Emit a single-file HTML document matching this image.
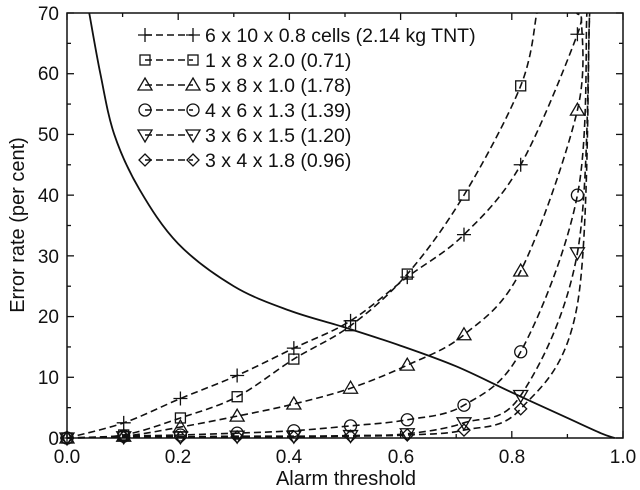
<!DOCTYPE html>
<html><head><meta charset="utf-8"><style>
html,body{margin:0;padding:0;background:#fff}
svg{display:block;font-family:"Liberation Sans",sans-serif}
</style></head><body>
<svg id="s" width="640" height="490" viewBox="0 0 640 490" xmlns="http://www.w3.org/2000/svg">
<rect x="0" y="0" width="640" height="490" fill="#fff"/>
<g id="plot"></g>
<rect x="67" y="13" width="556" height="425" fill="none" stroke="#111" stroke-width="1.5"/>
<g id="ticks" stroke="#111" stroke-width="1.3"></g>
<g font-size="19" fill="#111" text-anchor="end">
<text x="59" y="445">0</text><text x="59" y="384">10</text><text x="59" y="323">20</text><text x="59" y="263">30</text><text x="59" y="202">40</text><text x="59" y="141">50</text><text x="59" y="80">60</text><text x="59" y="20">70</text>
</g>
<g font-size="19" fill="#111" text-anchor="middle">
<text x="67" y="463">0.0</text><text x="178" y="463">0.2</text><text x="289" y="463">0.4</text><text x="401" y="463">0.6</text><text x="512" y="463">0.8</text><text x="623" y="463">1.0</text>
<text x="346" y="485" font-size="20">Alarm threshold</text>
<text transform="translate(24,225) rotate(-90)" font-size="20">Error rate (per cent)</text>
</g>
<g font-size="19.5" fill="#111">
<text x="205" y="42">6 x 10 x 0.8 cells (2.14 kg TNT)</text>
<text x="205" y="67">1 x 8 x 2.0 (0.71)</text>
<text x="205" y="92">5 x 8 x 1.0 (1.78)</text>
<text x="205" y="117">4 x 6 x 1.3 (1.39)</text>
<text x="205" y="142">3 x 6 x 1.5 (1.20)</text>
<text x="205" y="167">3 x 4 x 1.8 (0.96)</text>
</g>
<g id="leg"></g>
</svg>
<script>
var X=function(v){return 67+556*v},Y=function(v){return 438-425*v/70};
var ns="http://www.w3.org/2000/svg",P=document.getElementById('plot'),T=document.getElementById('ticks'),L=document.getElementById('leg');
function el(p,t,a){var e=document.createElementNS(ns,t);for(var k in a)e.setAttribute(k,a[k]);p.appendChild(e);return e}
for(var i=0;i<=10;i++){var x=X(i/10),l=i%2?4:7;el(T,'line',{x1:x,y1:438,x2:x,y2:438-l});el(T,'line',{x1:x,y1:13,x2:x,y2:13+l});}
for(var i=0;i<=14;i++){var y=Y(i*5),l=i%2?4:7;el(T,'line',{x1:67,y1:y,x2:67+l,y2:y});el(T,'line',{x1:623,y1:y,x2:623-l,y2:y});}
function smooth(pts){var d='M'+pts[0][0]+','+pts[0][1];for(var i=0;i<pts.length-1;i++){var p0=pts[i-1]||pts[i],p1=pts[i],p2=pts[i+1],p3=pts[i+2]||p2;
d+=' C'+(p1[0]+(p2[0]-p0[0])/6)+','+(p1[1]+(p2[1]-p0[1])/6)+' '+(p2[0]-(p3[0]-p1[0])/6)+','+(p2[1]-(p3[1]-p1[1])/6)+' '+p2[0]+','+p2[1];}return d}
var cl=[[0.04,70],[0.06,60],[0.085,50],[0.13,41],[0.2,32],[0.3,25],[0.4,21],[0.5,18.2],[0.6,15.2],[0.7,11.8],[0.8,7.5],[0.9,3.3],[0.96,0.8],[0.985,0]];
el(P,'path',{d:smooth(cl.map(function(p){return[X(p[0]),Y(p[1])]})),fill:'none',stroke:'#111','stroke-width':1.8});
var S=[
['plus',[0,2.5,6.5,10.3,14.8,19.3,26.5,33.5,45,66.5],[0.917,70],10],
['sq',[0,0.5,3.3,6.8,13,18.5,27,40,58],[0.845,70],9],
['tri',[0,0.3,1.8,3.6,5.6,8.2,12,17,27.5,54],[0.925,70],10],
['circ',[0,0.3,0.5,0.8,1.2,2,3,5.4,14.2,40],[0.935,70],10],
['dtri',[0,0.2,0.2,0.3,0.3,0.4,0.7,2.5,7,30.5],[0.94,70],10],
['dia',[0,0.1,0.1,0.2,0.2,0.3,0.5,1.3,4.8,22],[0.94,70],9]];
function mk(g,t,x,y){var a={fill:'none',stroke:'#111','stroke-width':1.3},r=5;
if(t=='plus'){el(g,'path',Object.assign({d:'M'+(x-7)+','+y+'h14M'+x+','+(y-7)+'v14'},a));}
else if(t=='sq')el(g,'rect',Object.assign({x:x-r,y:y-r,width:2*r,height:2*r,fill:'#fff'},a));
else if(t=='tri')el(g,'path',Object.assign({d:'M'+x+','+(y-7)+'L'+(x+7)+','+(y+5)+'L'+(x-7)+','+(y+5)+'Z',fill:'#fff'},a));
else if(t=='dtri')el(g,'path',Object.assign({d:'M'+x+','+(y+7)+'L'+(x+7)+','+(y-5)+'L'+(x-7)+','+(y-5)+'Z',fill:'#fff'},a));
else if(t=='circ')el(g,'circle',Object.assign({cx:x,cy:y,r:6,fill:'#fff'},a));
else el(g,'path',Object.assign({d:'M'+x+','+(y-6)+'L'+(x+6)+','+y+'L'+x+','+(y+6)+'L'+(x-6)+','+y+'Z',fill:'#fff'},a));}
S.forEach(function(s,k){var pts=s[1].map(function(v,i){return[X(i*0.102),Y(v)]});pts.push([X(s[2][0]),Y(s[2][1])]);
el(P,'path',{d:smooth(pts),fill:'none',stroke:'#111','stroke-width':1.6,'stroke-dasharray':'7,4'});
s[1].forEach(function(v,i){if(i<s[3])mk(P,s[0],X(i*0.102),Y(v))});
var ly=35+25*k;el(L,'rect',{x:138,y:ly-9,width:62,height:18,fill:'#fff'});
el(L,'line',{x1:145,y1:ly,x2:193,y2:ly,stroke:'#111','stroke-width':1.6,'stroke-dasharray':'7,4'});mk(L,s[0],145,ly);mk(L,s[0],193,ly);});
</script>
</body></html>
